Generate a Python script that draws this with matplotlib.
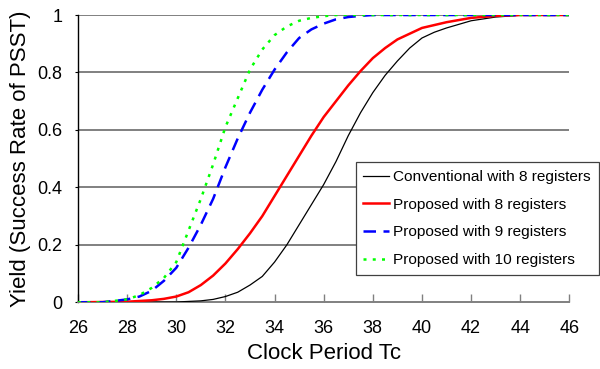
import matplotlib
matplotlib.use('Agg')
import matplotlib.pyplot as plt

plt.rcParams['font.family'] = ['Liberation Sans', 'DejaVu Sans']

# clock period values
tc_conv8 = [26, 30, 31, 31.5, 32, 32.5, 33, 33.5, 34, 34.5, 35, 35.5, 36, 36.5, 37, 37.5,
            38, 38.5, 39, 39.5, 40, 40.5, 41, 42, 43, 44, 46]
yield_conv8 = [0, 0.001, 0.005, 0.01, 0.02, 0.035, 0.06, 0.09, 0.14, 0.2, 0.27, 0.34, 0.41, 0.49,
               0.58, 0.66, 0.73, 0.79, 0.84, 0.885, 0.92, 0.94, 0.955, 0.98, 0.993, 0.999, 1]

tc_prop8 = [26, 28, 29, 29.5, 30, 30.5, 31, 31.5, 32, 32.5, 33, 33.5, 34, 34.5, 35, 35.5, 36,
            36.5, 37, 37.5, 38, 38.5, 39, 39.5, 40, 41, 42, 43, 44, 46]
yield_prop8 = [0, 0.002, 0.007, 0.012, 0.02, 0.035, 0.06, 0.093, 0.135, 0.185, 0.24, 0.3, 0.37,
               0.44, 0.51, 0.58, 0.645, 0.7, 0.755, 0.805, 0.85, 0.885, 0.915, 0.935, 0.955,
               0.975, 0.99, 0.997, 1, 1]

tc_prop9 = [26, 27, 28, 28.5, 29, 29.5, 30, 30.5, 31, 31.5, 32, 32.5, 33, 33.5, 34, 34.5, 35,
            35.5, 36, 36.5, 37, 37.5, 38, 46]
yield_prop9 = [0, 0, 0.01, 0.02, 0.04, 0.075, 0.12, 0.19, 0.27, 0.36, 0.47, 0.57, 0.66, 0.74, 0.81,
               0.87, 0.92, 0.95, 0.97, 0.985, 0.993, 0.997, 1, 1]

tc_prop10 = [26, 27, 28, 28.5, 29, 29.5, 30, 30.5, 31, 31.5, 32, 32.5, 33, 33.5, 34, 34.5, 35,
             35.5, 36, 36.5, 46]
yield_prop10 = [0, 0, 0.01, 0.025, 0.05, 0.085, 0.14, 0.25, 0.36, 0.48, 0.61, 0.71, 0.81, 0.88,
                0.93, 0.96, 0.98, 0.99, 0.996, 1, 1]

x_ticks = list(range(26, 47, 2))
y_ticks = [0, 0.2, 0.4, 0.6, 0.8, 1]
y_tick_labels = ['0', '0.2', '0.4', '0.6', '0.8', '1']

fig = plt.figure(figsize=(6, 3.69), dpi=100)
ax = fig.add_axes([0.13, 0.1808, 0.819, 0.7785])

for y in y_ticks[1:]:
    ax.axhline(y, color='#808080', lw=1.4, zorder=1)

ax.plot(tc_conv8, yield_conv8, color='black', lw=0.9, label='Conventional with 8 registers', zorder=3)
ax.plot(tc_prop8, yield_prop8, color='#ff0000', lw=1.8, label='Proposed with 8 registers', zorder=3)
ax.plot(tc_prop9, yield_prop9, color='#0000ff', lw=1.8, dashes=(5, 3),
        label='Proposed with 9 registers', zorder=3)
ax.plot(tc_prop10, yield_prop10, color='#00ff00', lw=1.8, dashes=(1.2, 2.5),
        label='Proposed with 10 registers', zorder=3)

ax.set_xlim(26, 46)
ax.set_ylim(0, 1)
ax.set_xticks(x_ticks)
ax.set_yticks(y_ticks)
ax.set_yticklabels(y_tick_labels)
ax.tick_params(axis='x', direction='in', length=6, width=1, color='#808080', labelsize=13, pad=13)
ax.tick_params(axis='y', direction='out', length=2, labelsize=13, pad=9)
for s in ['top', 'right']:
    ax.spines[s].set_visible(False)
ax.spines['bottom'].set_color('#808080')
ax.spines['bottom'].set_linewidth(1.4)
ax.spines['left'].set_linewidth(1.0)

ax.set_xlabel('Clock Period Tc', fontsize=16, labelpad=4)
ax.set_ylabel('Yield (Success Rate of PSST)', fontsize=16, labelpad=5)

leg = fig.legend(loc='upper left', bbox_to_anchor=(355.5 / 600, 1 - 162.5 / 369), fontsize=11.1,
                 frameon=True, fancybox=False, edgecolor='#404040', framealpha=1,
                 handlelength=1.65, borderaxespad=0, labelspacing=0.88, handletextpad=0.3,
                 borderpad=0.5)
leg.get_frame().set_linewidth(0.9)

fig.savefig('out.png', dpi=100)
